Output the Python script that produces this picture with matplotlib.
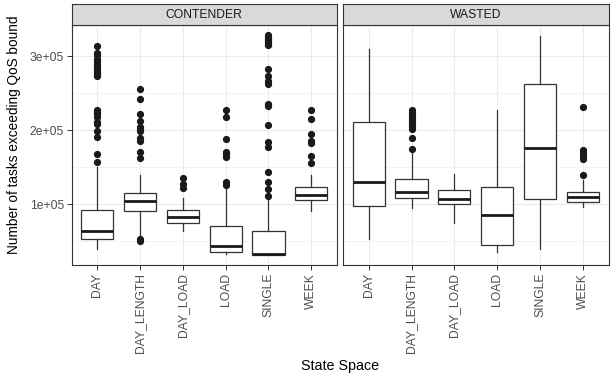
import matplotlib
matplotlib.use("Agg")
import matplotlib.pyplot as plt
from matplotlib.ticker import FixedLocator

plt.rcParams['font.family'] = ['Liberation Sans', 'DejaVu Sans']

categories = ["DAY", "DAY_LENGTH", "DAY_LOAD", "LOAD", "SINGLE", "WEEK"]
facets = ["CONTENDER", "WASTED"]

# box statistics per facet: [whislo, q1, med, q3, whishi]
contender_stats = {
    "DAY":        [39600, 53100, 63900, 92300, 150400],
    "DAY_LENGTH": [55500, 90100, 104400, 114800, 139200],
    "DAY_LOAD":   [63900, 74700, 82400, 91500, 107700],
    "LOAD":       [32000, 35100, 43600, 69800, 119800],
    "SINGLE":     [31500, 31500, 32400, 63100, 107100],
    "WEEK":       [90500, 105000, 112100, 123300, 139200],
}
contender_fliers = {
    "DAY": [313400, 304900, 302200, 296800, 293200, 290100, 286400, 282400,
            280100, 277400, 275200, 272900, 227900, 224700, 221200, 217900,
            211200, 208100, 198600, 190100, 168000, 156500],
    "DAY_LENGTH": [255000, 241800, 222000, 212500, 204400, 201300, 198600,
                   188700, 185500, 170600, 161700, 52500, 50400],
    "DAY_LOAD": [135500, 127400, 121200],
    "LOAD": [227900, 217100, 187400, 170600, 167100, 163000, 130100, 125600],
    "SINGLE": [328300, 326000, 323800, 321500, 319200, 317100, 314800,
               283300, 273300, 266100, 263000, 235100, 232400, 207600,
               184100, 177000, 142800, 130100, 120200, 111200],
    "WEEK": [227000, 214400, 195000, 185500, 182800, 164800, 155000],
}
wasted_stats = {
    "DAY":        [53100, 97300, 129700, 211200, 310000],
    "DAY_LENGTH": [95000, 107700, 116600, 133400, 170500],
    "DAY_LOAD":   [74700, 99600, 106700, 119300, 140100],
    "LOAD":       [35500, 44600, 85500, 123300, 226600],
    "SINGLE":     [39200, 106700, 175200, 263000, 327000],
    "WEEK":       [95900, 102700, 109400, 116600, 133000],
}
wasted_fliers = {
    "DAY": [],
    "DAY_LENGTH": [227000, 223400, 219800, 215800, 212100, 208100, 204400,
                   200900, 188700, 173900],
    "DAY_LOAD": [],
    "LOAD": [],
    "SINGLE": [],
    "WEEK": [230700, 173400, 168500, 165300, 160400, 138700],
}

y_ticks = [100000, 200000, 300000]
y_tick_labels = ["1e+05", "2e+05", "3e+05"]
y_minor = [50000, 150000, 250000]

W, H = 613, 379
fig = plt.figure(figsize=(W / 100, H / 100), dpi=100)

def fx(px):
    return px / W

def fy(py):
    return 1 - py / H

panel_x = [(71.5, 337.0), (343.0, 608.5)]
panel_top, panel_bot = 24.7, 265.0
strip_top = 4.0

dark = "#333333"
grid_c = "#EBEBEB"
lw_box = 0.9

all_stats = [contender_stats, wasted_stats]
all_fliers = [contender_fliers, wasted_fliers]

for i, facet in enumerate(facets):
    x0, x1 = panel_x[i]
    ax = fig.add_axes([fx(x0), fy(panel_bot), fx(x1 - x0), (panel_bot - panel_top) / H])
    ax.set_facecolor("white")
    stats = []
    for c in categories:
        lo, q1, med, q3, hi = all_stats[i][c]
        stats.append(dict(whislo=lo, q1=q1, med=med, q3=q3, whishi=hi,
                          fliers=all_fliers[i][c], label=c))
    pos = list(range(1, len(categories) + 1))
    ax.bxp(stats, positions=pos, widths=0.75, showcaps=False, patch_artist=True,
           boxprops=dict(facecolor="white", edgecolor=dark, linewidth=lw_box),
           whiskerprops=dict(color=dark, linewidth=lw_box),
           medianprops=dict(color="#1A1A1A", linewidth=2.0, solid_capstyle="butt"),
           flierprops=dict(marker="o", markerfacecolor="#1A1A1A",
                           markeredgecolor="#1A1A1A", markersize=4.2, linestyle="none"),
           zorder=3)
    ax.set_xlim(0.4, 6.6)
    ax.set_ylim(17600, 342600)
    ax.yaxis.set_major_locator(FixedLocator(y_ticks))
    ax.yaxis.set_minor_locator(FixedLocator(y_minor))
    ax.set_xticks(pos)
    ax.set_xticklabels(categories, rotation=90, color="#4D4D4D", fontsize=8.7)
    ax.grid(True, which="major", color=grid_c, linewidth=0.75, zorder=0)
    ax.grid(True, which="minor", axis="y", color=grid_c, linewidth=0.4, zorder=0)
    ax.set_axisbelow(True)
    ax.tick_params(axis="both", which="major", length=3.5, width=0.7, color=dark,
                   pad=2)
    ax.tick_params(axis="both", which="minor", length=0)
    if i == 0:
        ax.set_yticklabels(y_tick_labels, color="#4D4D4D", fontsize=8.7)
    else:
        ax.tick_params(axis="y", which="major", length=0, labelleft=False)
    for s in ax.spines.values():
        s.set_color(dark)
        s.set_linewidth(0.8)
    # strip
    sax = fig.add_axes([fx(x0), fy(panel_top), fx(x1 - x0), (panel_top - strip_top) / H])
    sax.set_facecolor("#D9D9D9")
    sax.set_xticks([])
    sax.set_yticks([])
    for s in sax.spines.values():
        s.set_color(dark)
        s.set_linewidth(0.8)
    sax.text(0.5, 0.48, facet, ha="center", va="center", fontsize=8.7,
             color="#1A1A1A", transform=sax.transAxes)

fig.text(fx(340), fy(366), "State Space", ha="center", va="center", fontsize=10.3,
         color="black")
fig.text(fx(14), fy(135), "Number of tasks exceeding QoS bound", ha="center",
         va="center", rotation=90, fontsize=9.8, color="black")

fig.savefig("out.png", dpi=100)
